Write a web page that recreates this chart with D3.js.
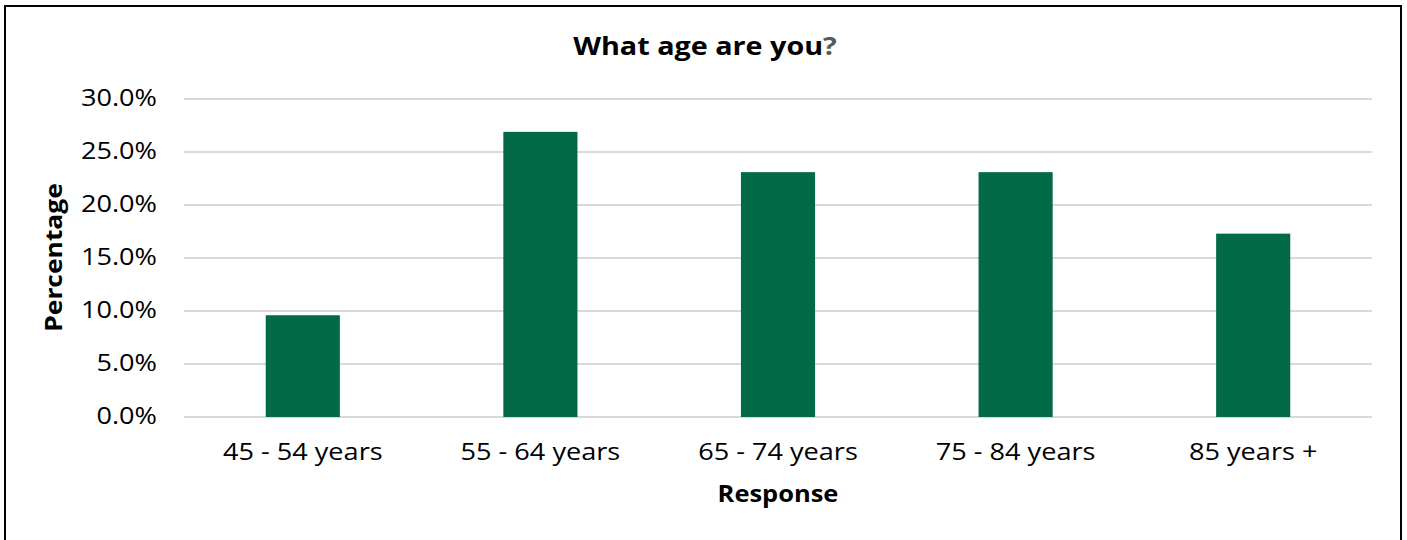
<!DOCTYPE html>
<html>
<head>
<meta charset="utf-8">
<script src="https://cdn.jsdelivr.net/npm/d3@7"></script>
<style>
  html, body { margin: 0; padding: 0; background: #fff; }
  svg { display: block; font-family: "Open Sans", "Noto Sans", sans-serif; }
</style>
</head>
<body>
<svg id="chart" width="1407" height="540"></svg>
<script>
const categories = ["45 - 54 years", "55 - 64 years", "65 - 74 years", "75 - 84 years", "85 years +"];
const values = [9.6, 26.9, 23.1, 23.1, 17.3];
const yTicks = [0, 5, 10, 15, 20, 25, 30];
const titleMain = "What age are you";
const titleMark = "?";
const xTitle = "Response";
const yTitle = "Percentage";

const svg = d3.select("#chart");
const W = 1407, H = 540;
const margin = { left: 184, right: 1407 - 1372, top: 99, bottom: 540 - 417 };
const KT = 1.13; // horizontal widening of tick text

// outer border
svg.append("rect")
  .attr("x", 5).attr("y", 6)
  .attr("width", 1396).attr("height", 600)
  .attr("fill", "none").attr("stroke", "#000").attr("stroke-width", 2);

const x = d3.scaleBand()
  .domain(categories)
  .range([margin.left, W - margin.right])
  .paddingInner(0.688).paddingOuter(0.344);

const y = d3.scaleLinear()
  .domain([0, 30])
  .range([H - margin.bottom, margin.top]);

// gridlines
svg.append("g")
  .selectAll("line")
  .data(yTicks)
  .join("line")
  .attr("x1", margin.left).attr("x2", W - margin.right)
  .attr("y1", d => y(d)).attr("y2", d => y(d))
  .attr("stroke", "#d9d9d9").attr("stroke-width", 2);

// bars
svg.append("g")
  .selectAll("rect")
  .data(values)
  .join("rect")
  .attr("x", (d, i) => x(categories[i]))
  .attr("width", x.bandwidth())
  .attr("y", d => y(d))
  .attr("height", d => y(0) - y(d))
  .attr("fill", "#036a48");

// y axis
const yAxis = d3.axisLeft(y)
  .tickValues(yTicks)
  .tickFormat(d => d.toFixed(1) + "%")
  .tickSize(0).tickPadding(27);
const gy = svg.append("g")
  .attr("transform", `translate(${margin.left},0)`)
  .call(yAxis);
gy.select(".domain").remove();
gy.attr("font-size", null).attr("font-family", null);
gy.selectAll("text")
  .attr("font-size", 24).attr("fill", "#000")
  .attr("dy", "0.29em")
  .each(function () {
    const t = d3.select(this);
    const tx = +t.attr("x");
    t.attr("x", 0).attr("transform", `translate(${tx},0) scale(${KT},1)`);
  });

// x axis
const xAxis = d3.axisBottom(x).tickSize(0).tickPadding(43);
const gx = svg.append("g")
  .attr("transform", `translate(0,${y(0)})`)
  .call(xAxis);
gx.select(".domain").remove();
gx.attr("font-size", null).attr("font-family", null);
gx.selectAll("text")
  .attr("font-size", 24).attr("fill", "#000")
  .attr("dy", 0)
  .each(function () {
    const t = d3.select(this);
    const ty = +t.attr("y");
    t.attr("y", 0).attr("transform", `translate(0,${ty}) scale(${KT},1)`);
  });

// title
const t = svg.append("text")
  .attr("transform", `translate(705,55) scale(1.15,1)`)
  .attr("text-anchor", "middle")
  .attr("font-size", 25).attr("font-weight", "bold");
t.append("tspan").attr("fill", "#000").text(titleMain);
t.append("tspan").attr("fill", "#595959").text(titleMark);

// axis titles
svg.append("text")
  .attr("transform", `translate(${(margin.left + W - margin.right) / 2},502) scale(1.107,1)`)
  .attr("text-anchor", "middle")
  .attr("font-size", 23).attr("font-weight", "bold")
  .text(xTitle);

svg.append("text")
  .attr("transform", `translate(62,257.5) rotate(-90) scale(1.148,1)`)
  .attr("text-anchor", "middle")
  .attr("font-size", 23).attr("font-weight", "bold")
  .text(yTitle);
</script>
</body>
</html>
